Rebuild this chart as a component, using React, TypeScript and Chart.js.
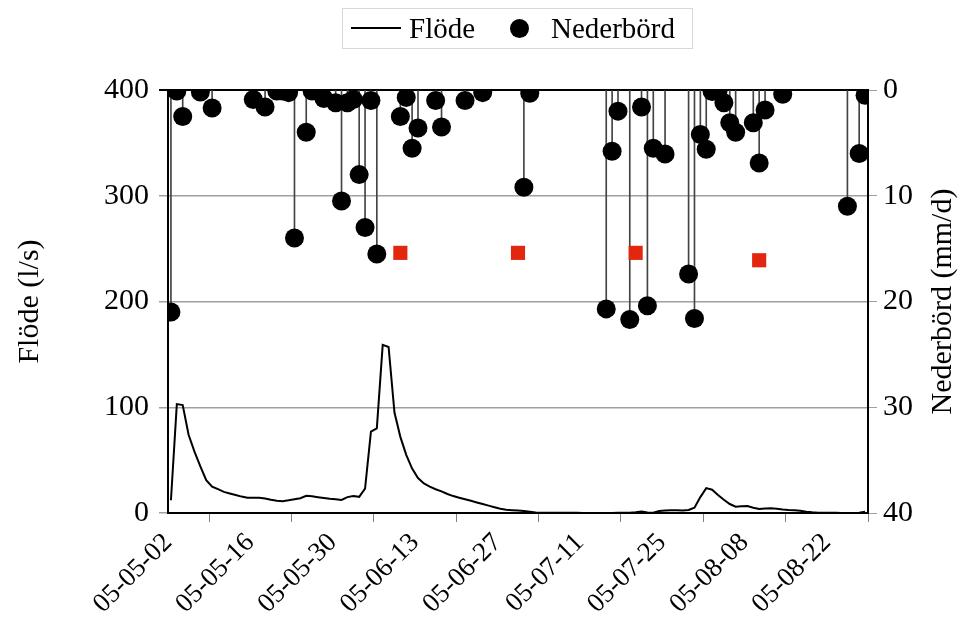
import React, { useEffect, useRef } from "react";
import { Chart, registerables } from "chart.js";

Chart.register(...registerables);

const FONT = "'Liberation Serif', 'Times New Roman', serif";

// day index 0 = 2005-05-02
const DAY_COUNT = 119;
const flowValues = [
  12, 103, 102, 74, 58, 44, 31, 25, 22.5, 20,
  18.5, 17, 15.5, 14.5, 14.5, 14.5, 13.8, 12.5, 11.5, 11.2,
  12, 13, 14, 16.2, 15.8, 15, 14.2, 13.5, 13, 12.3,
  15, 16, 15.3, 23, 77, 80, 159, 157, 95, 72,
  55, 42, 33, 28, 25, 22.5, 20.5, 18, 16, 14.5,
  13, 11.5, 10, 8.5, 7, 5.5, 4, 3, 2.6, 2.3,
  2, 1.2, 0.5, 0.3, 0.3, 0.2, 0.2, 0.2, 0.2, 0.2,
  0.1, 0.1, 0.1, 0.1, 0.1, 0.1, 0.2, 0.2, 0.3, 0.6,
  1.3, 0.4, 0.3, 2, 2.3, 2.5, 2.5, 2.4, 2.8, 5,
  15, 23.5, 22, 17, 12.5, 8.5, 6, 6.3, 6.6, 5,
  3.8, 4.2, 4.4, 4, 3.3, 2.8, 2.5, 2.2, 1.2, 0.6,
  0.3, 0.2, 0.2, 0.2, 0.1, 0.1, 0.1, 0.2, 1.2,
];

const precipDays = [
  0, 1, 2, 5, 7, 14, 16, 18, 19, 20,
  21, 23, 24, 26, 28, 29, 30, 31, 32, 33,
  34, 35, 39, 40, 41, 42, 45, 46, 50, 53,
  60, 61, 74, 75, 76, 78, 80, 81, 82, 84,
  88, 89, 90, 91, 92, 93, 94, 95, 96, 99,
  100, 101, 104, 115, 117, 118,
];
const precipValues = [
  21.0, 0.1, 2.5, 0.2, 1.7, 0.9, 1.6, 0.1, 0.1, 0.25,
  14.0, 4.0, 0.1, 0.8, 1.2, 10.5, 1.2, 0.9, 8.0, 13.0,
  1.0, 15.5, 2.5, 0.7, 5.5, 3.6, 1.0, 3.5, 1.0, 0.25,
  9.2, 0.3, 20.7, 5.8, 2.0, 21.7, 1.6, 20.4, 5.5, 6.05,
  17.4, 21.6, 4.2, 5.6, 0.15, 0.15, 1.2, 3.1, 4.0, 3.1,
  6.9, 1.9, 0.4, 11.0, 6.0, 0.5,
];

const markerDays = [39, 59, 79, 100];
const markerValues = [15.4, 15.4, 15.4, 16.1];

const xTickDays = [0, 14, 28, 42, 56, 70, 84, 98, 112];
const leftTicks = [0, 100, 200, 300, 400];
const rightTicks = [0, 10, 20, 30, 40];

const leftTitle = "Flöde (l/s)";
const rightTitle = "Nederbörd (mm/d)";
const flowLabel = "Flöde";
const precipLabel = "Nederbörd";

function fmtDay(day: number): string {
  const d = new Date(2005, 4, 2 + day);
  const p = (n: number) => String(n).padStart(2, "0");
  return `${p(d.getFullYear() % 100)}-${p(d.getMonth() + 1)}-${p(d.getDate())}`;
}

const titlesPlugin = {
  id: "titles",
  afterDraw(chart: any) {
    const ctx = chart.ctx;
    const area = chart.chartArea;
    const cy = (area.top + area.bottom) / 2;
    ctx.save();
    ctx.fillStyle = "#000";
    ctx.font = `30px ${FONT}`;
    ctx.textAlign = "center";
    ctx.textBaseline = "middle";
    ctx.translate(30, cy);
    ctx.rotate(-Math.PI / 2);
    ctx.fillText(leftTitle, 0, 0);
    ctx.restore();
    ctx.save();
    ctx.fillStyle = "#000";
    ctx.font = `30px ${FONT}`;
    ctx.textAlign = "center";
    ctx.textBaseline = "middle";
    ctx.translate(943, cy);
    ctx.rotate(-Math.PI / 2);
    ctx.fillText(rightTitle, 0, 0);
    ctx.restore();
  },
};

export default function App() {
  const ref = useRef<HTMLCanvasElement | null>(null);

  useEffect(() => {
    if (!ref.current) return;
    const chart = new Chart(ref.current, {
      type: "line",
      data: {
        datasets: [
          {
            type: "line",
            label: precipLabel,
            data: precipDays.map((d, i) => ({ x: d + 0.5, y: precipValues[i] })),
            yAxisID: "yR",
            showLine: false,
            pointRadius: 9.5,
            pointBackgroundColor: "#000",
            pointBorderColor: "#000",
            pointBorderWidth: 0,
            order: 0,
          },
          {
            type: "line",
            label: "markers",
            data: markerDays.map((d, i) => ({ x: d + 0.5, y: markerValues[i] })),
            yAxisID: "yR",
            showLine: false,
            pointStyle: "rect",
            pointRadius: 10,
            pointBackgroundColor: "#e3260e",
            pointBorderWidth: 0,
            order: 1,
          },
          {
            type: "line",
            label: flowLabel,
            data: flowValues.map((v, i) => ({ x: i + 0.5, y: v })),
            yAxisID: "yL",
            borderColor: "#000",
            borderWidth: 2,
            pointRadius: 0,
            tension: 0,
            order: 2,
          },
          {
            type: "bar",
            label: "stems",
            data: precipDays.map((d, i) => ({ x: d + 0.5, y: precipValues[i] })),
            yAxisID: "yR",
            backgroundColor: "#444",
            borderWidth: 0,
            barThickness: 1,
            order: 3,
          } as any,
        ],
      },
      options: {
        animation: false,
        responsive: true,
        maintainAspectRatio: false,
        layout: { padding: { top: 90, left: 0, right: 0, bottom: 0 } },
        plugins: { legend: { display: false }, tooltip: { enabled: false } },
        scales: {
          x: {
            type: "linear",
            min: 0,
            max: DAY_COUNT,
            offset: false,
            afterBuildTicks: (s: any) => {
              s.ticks = xTickDays.map((v) => ({ value: v }));
            },
            ticks: {
              callback: (v: any) => fmtDay(Number(v)),
              maxRotation: 45,
              minRotation: 45,
              autoSkip: false,
              color: "#000",
              padding: 5,
              font: { family: FONT, size: 27 },
            },
            grid: {
              drawOnChartArea: false,
              drawTicks: true,
              tickLength: 9,
              color: "#808080",
              lineWidth: 1,
            },
            border: { color: "#000", width: 2 },
            afterFit: (s: any) => {
              s.height = 123;
            },
          },
          yL: {
            type: "linear",
            position: "left",
            min: 0,
            max: 400,
            afterBuildTicks: (s: any) => {
              s.ticks = leftTicks.map((v) => ({ value: v }));
            },
            ticks: {
              color: "#000",
              padding: 10,
              font: { family: FONT, size: 30 },
            },
            grid: {
              color: (c: any) => (c.tick && c.tick.value === 400 ? "#000" : "#a0a0a0"),
              lineWidth: (c: any) => (c.tick && c.tick.value === 400 ? 2 : 1.5),
              drawTicks: true,
              tickLength: 9,
            },
            border: { color: "#000", width: 2 },
            afterFit: (s: any) => {
              s.width = 168;
            },
          },
          yR: {
            type: "linear",
            position: "right",
            min: 0,
            max: 40,
            reverse: true,
            afterBuildTicks: (s: any) => {
              s.ticks = rightTicks.map((v) => ({ value: v }));
            },
            ticks: {
              color: "#000",
              padding: 6,
              font: { family: FONT, size: 30 },
            },
            grid: {
              drawOnChartArea: false,
              drawTicks: true,
              tickLength: 9,
              color: "#a0a0a0",
            },
            border: { color: "#000", width: 2 },
            afterFit: (s: any) => {
              s.width = 91;
            },
          },
        },
      },
      plugins: [titlesPlugin],
    } as any);
    return () => chart.destroy();
  }, []);

  return (
    <div style={{ position: "fixed", left: 0, top: 0, width: 959, height: 636, background: "#fff" }}>
      <canvas ref={ref} />
      <div
        style={{
          position: "absolute",
          left: 342,
          top: 8,
          width: 351,
          height: 41,
          border: "1px solid #d8d8d8",
          boxSizing: "border-box",
          fontFamily: FONT,
          fontSize: 29,
          color: "#000",
        }}
      >
        <div style={{ position: "absolute", left: 8, top: 18, width: 50, height: 2, background: "#000" }} />
        <div style={{ position: "absolute", left: 66, top: -1, lineHeight: "40px", whiteSpace: "nowrap" }}>{flowLabel}</div>
        <div
          style={{
            position: "absolute",
            left: 167,
            top: 10,
            width: 19,
            height: 19,
            borderRadius: "50%",
            background: "#000",
          }}
        />
        <div style={{ position: "absolute", left: 208, top: -1, lineHeight: "40px", whiteSpace: "nowrap" }}>{precipLabel}</div>
      </div>
    </div>
  );
}
